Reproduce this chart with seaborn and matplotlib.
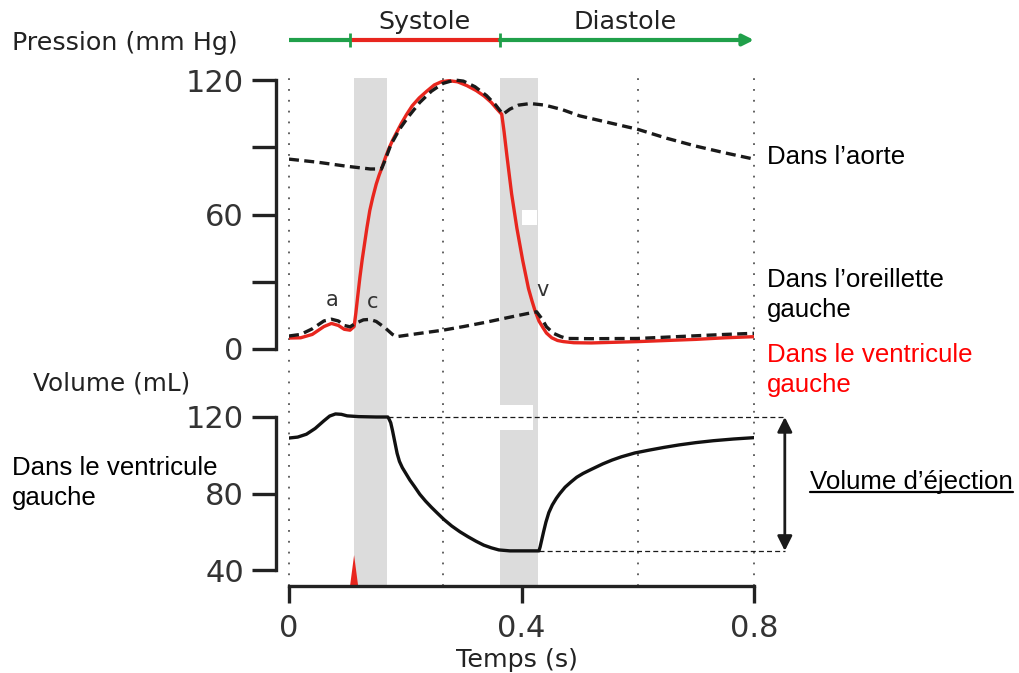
"""
Cycle cardiaque : pressions (aorte, oreillette, ventricule gauche) et volume ventriculaire.
"""
import numpy as np
import pandas as pd
import matplotlib
matplotlib.use('Agg')
import matplotlib.pyplot as plt
import seaborn as sns
from matplotlib.lines import Line2D
from matplotlib.patches import Rectangle

# --- data ---
# left ventricle pressure (mm Hg)
t_lv = [0.000, 0.020, 0.040, 0.060, 0.073, 0.085, 0.095, 0.105, 0.112, 0.115,
        0.118, 0.122, 0.126, 0.130, 0.134, 0.139, 0.144, 0.150, 0.155, 0.160,
        0.166, 0.172, 0.178, 0.185, 0.193, 0.202, 0.212, 0.224, 0.237, 0.250,
        0.262, 0.275, 0.290, 0.306, 0.322, 0.336, 0.348, 0.358, 0.366, 0.370,
        0.375, 0.383, 0.392, 0.402, 0.412, 0.418, 0.423, 0.430, 0.437, 0.443,
        0.452, 0.462, 0.472, 0.490, 0.520, 0.560, 0.600, 0.650, 0.700, 0.750,
        0.800]
p_lv = [4.9, 5.0, 6.5, 10.0, 11.4, 10.5, 8.8, 8.4, 10.0, 16.0,
        23.0, 32.0, 40.0, 47.0, 54.0, 61.8, 67.5, 73.5, 77.5, 81.0,
        85.5, 89.5, 93.0, 96.5, 100.5, 104.5, 108.5, 112.0, 115.0, 117.8,
        119.2, 119.7, 119.2, 117.5, 115.3, 112.8, 110.0, 107.0, 104.7, 97.0,
        86.0, 69.2, 54.0, 39.6, 27.0, 21.5, 17.3, 12.5, 9.5, 7.1,
        5.0, 3.8, 3.3, 2.8, 2.7, 3.0, 3.3, 3.8, 4.3, 5.0,
        5.5]

# aortic pressure (mm Hg)
t_ao = [0.000, 0.050, 0.100, 0.140, 0.159, 0.165, 0.175, 0.190, 0.205, 0.225,
        0.245, 0.265, 0.285, 0.300, 0.320, 0.340, 0.355, 0.368, 0.380, 0.395,
        0.415, 0.440, 0.470, 0.500, 0.550, 0.600, 0.650, 0.700, 0.750, 0.800]
p_ao = [84.7, 83.3, 81.5, 80.3, 80.3, 84.0, 91.0, 98.0, 103.5, 110.0,
        115.0, 118.5, 120.0, 119.5, 117.0, 113.0, 109.0, 104.7, 107.0, 108.8,
        109.5, 108.8, 106.8, 104.0, 101.0, 98.0, 94.0, 90.5, 87.5, 84.7]

# left atrium pressure (mm Hg)
t_la = [0.000, 0.020, 0.040, 0.060, 0.073, 0.085, 0.095, 0.105, 0.115, 0.128,
        0.139, 0.150, 0.165, 0.178, 0.185, 0.220, 0.265, 0.300, 0.340, 0.380,
        0.410, 0.426, 0.435, 0.443, 0.455, 0.468, 0.478, 0.520, 0.600, 0.650,
        0.700, 0.750, 0.800]
p_la = [5.8, 6.5, 9.0, 12.5, 13.3, 12.5, 10.5, 9.9, 11.5, 13.0,
        13.2, 12.3, 9.5, 6.5, 5.5, 6.8, 8.4, 10.0, 12.0, 14.2,
        15.8, 16.6, 13.5, 9.9, 7.0, 5.5, 4.7, 4.6, 4.7, 5.3,
        5.9, 6.5, 7.0]

# left ventricle volume (mL)
t_vol = [0.000, 0.015, 0.030, 0.045, 0.060, 0.070, 0.080, 0.090, 0.100, 0.120,
         0.150, 0.170, 0.172, 0.175, 0.178, 0.182, 0.186, 0.190, 0.195, 0.200,
         0.208, 0.216, 0.225, 0.235, 0.245, 0.255, 0.267, 0.280, 0.294, 0.308,
         0.322, 0.335, 0.348, 0.361, 0.380, 0.400, 0.430, 0.432, 0.435, 0.438,
         0.442, 0.447, 0.453, 0.460, 0.466, 0.475, 0.485, 0.495, 0.506, 0.520,
         0.540, 0.556, 0.572, 0.595, 0.620, 0.645, 0.671, 0.700, 0.730, 0.765,
         0.800]
vol = [109.0, 109.5, 111.0, 114.0, 118.0, 120.5, 121.6, 121.4, 120.6, 120.2,
       120.0, 120.0, 119.0, 117.0, 113.0, 107.0, 101.0, 96.8, 93.5, 91.0,
       87.0, 83.6, 79.6, 76.0, 72.8, 69.8, 66.3, 63.0, 60.0, 57.4,
       55.0, 53.0, 51.6, 50.5, 50.0, 50.0, 50.0, 52.0, 56.0, 60.0,
       65.0, 70.0, 74.0, 77.5, 80.0, 83.3, 86.0, 88.5, 90.5, 92.6,
       95.5, 97.5, 99.2, 101.2, 102.7, 104.1, 105.4, 106.6, 107.6, 108.5,
       109.2]

# end-diastolic / end-systolic volume and when they are reached
vol_edv, vol_esv = 120, 50
t_edv_end, t_esv_start = 0.170, 0.430

# isovolumetric phases (grey bands), reference lines, phase bar
bands = [(0.112, 0.169), (0.363, 0.428)]
ref_times = [0.0, 0.265, 0.6, 0.8]
phase_bounds = [0.0, 0.105, 0.363, 0.8]

# small red marker at the base of the volume panel
spike_t = [0.105, 0.112, 0.119]
spike_v = [31.6, 47.8, 31.6]

p_ticks = [0, 30, 60, 90, 120]
p_ticklabels = ['0', '', '60', '', '120']
v_ticks = [40, 80, 120]
v_ticklabels = ['40', '80', '120']
t_ticks = [0, 0.4, 0.8]
t_ticklabels = ['0', '0.4', '0.8']

RED = '#e8261e'
GREEN = '#20a04a'
GREY_BAND = '#dcdcdc'
INK = '#222222'

sns.set_theme(style='white')
plt.rcParams['font.family'] = ['DejaVu Sans']
plt.rcParams['lines.solid_joinstyle'] = 'round'

W, H = 1019, 673
fig = plt.figure(figsize=(W / 100, H / 100), dpi=100)


def px_axes(left, top, right, bottom):
    return fig.add_axes([left / W, 1 - bottom / H, (right - left) / W, (bottom - top) / H])


def fig_xy(x, y):
    return x / W, 1 - y / H


# pixel layout: pressure 0 -> y=349, 120 -> y=80 ; volume 40 -> y=570, 120 -> y=417
ax_p = px_axes(289, 78, 754, 405)
ax_v = px_axes(289, 405, 754, 586)
sc_p = (349 - 80) / 120
sc_v = (570 - 417) / 80
ax_p.set_ylim(0 - (405 - 349) / sc_p, 120 + (80 - 78) / sc_p)
ax_v.set_ylim(40 - (586 - 570) / sc_v, 120 + (417 - 405) / sc_v)
for ax in (ax_p, ax_v):
    ax.set_xlim(0, 0.8)
    ax.set_facecolor('none')
    for t0, t1 in bands:
        ax.axvspan(t0, t1, color=GREY_BAND, lw=0, zorder=0)
    for tr in ref_times:
        ax.axvline(tr, color='#555555', lw=1.3, ls=(0, (1, 5)), zorder=1, clip_on=False)

# little white gaps cutting the second band in the reference
ax_p.add_patch(Rectangle((0.401, 55.3), 0.026, 6.5, color='white', lw=0, zorder=0.5))
ax_v.add_patch(Rectangle((0.363, 120 - (430 - 417) / sc_v), 0.056, 20, color='white',
                         lw=0, zorder=0.5))

# --- pressure curves ---
df_lv = pd.DataFrame({'t': t_lv, 'p': p_lv})
df_ao = pd.DataFrame({'t': t_ao, 'p': p_ao})
df_la = pd.DataFrame({'t': t_la, 'p': p_la})
sns.lineplot(data=df_lv, x='t', y='p', ax=ax_p, color=RED, lw=2.4,
             estimator=None, sort=False, zorder=3)
for df in (df_ao, df_la):
    sns.lineplot(data=df, x='t', y='p', ax=ax_p, color='#1a1a1a', lw=2.4,
                 linestyle=(0, (3, 1.6)), estimator=None, sort=False, zorder=4)

# --- volume curve ---
df_vol = pd.DataFrame({'t': t_vol, 'v': vol})
sns.lineplot(data=df_vol, x='t', y='v', ax=ax_v, color='#111111', lw=2.4,
             estimator=None, sort=False, zorder=3)
ax_v.fill(spike_t, spike_v, color=RED, lw=0, zorder=2)

# stroke volume guides
t_arrow = 0.853
ax_v.plot([t_edv_end, t_arrow], [vol_edv, vol_edv], color='k', lw=0.9,
          ls=(0, (4, 2.5)), clip_on=False, zorder=2)
ax_v.plot([t_esv_start, t_arrow], [vol_esv, vol_esv], color='k', lw=0.9,
          ls=(0, (4, 2.5)), clip_on=False, zorder=2)
ax_v.annotate('', xy=(t_arrow, vol_edv), xytext=(t_arrow, vol_esv),
              arrowprops=dict(arrowstyle='<|-|>', color='k', lw=2, mutation_scale=22,
                              shrinkA=0, shrinkB=0),
              annotation_clip=False)

# --- axes styling ---
for ax in (ax_p, ax_v):
    ax.set_xlabel('')
    ax.set_ylabel('')
    ax.spines['top'].set_visible(False)
    ax.spines['right'].set_visible(False)
    ax.spines['left'].set_position(('outward', 9.5))
    ax.spines['left'].set_linewidth(2.4)
    ax.spines['left'].set_color(INK)
    ax.tick_params(axis='y', direction='out', length=17, width=2.4, color=INK,
                   labelsize=22, labelcolor='#333333', pad=6, left=True)

ax_p.spines['left'].set_bounds(0, 120)
ax_p.spines['bottom'].set_visible(False)
ax_p.set_yticks(p_ticks)
ax_p.set_yticklabels(p_ticklabels)
ax_p.set_xticks([])

ax_v.spines['left'].set_bounds(40, 120)
ax_v.set_yticks(v_ticks)
ax_v.set_yticklabels(v_ticklabels)
ax_v.spines['bottom'].set_bounds(0, 0.8)
ax_v.spines['bottom'].set_linewidth(2.4)
ax_v.spines['bottom'].set_color(INK)
ax_v.set_xticks(t_ticks)
ax_v.set_xticklabels(t_ticklabels)
ax_v.tick_params(axis='x', direction='out', length=12, width=2.4, color=INK,
                 labelsize=22, labelcolor='#333333', pad=8, bottom=True)

# --- phase bar (systole / diastole) ---
y_bar = (349 - 40) / sc_p
ax_p.plot(phase_bounds[0:2], [y_bar, y_bar], color=GREEN, lw=3, clip_on=False,
          solid_capstyle='butt')
ax_p.plot(phase_bounds[1:3], [y_bar, y_bar], color=RED, lw=3, clip_on=False,
          solid_capstyle='butt')
ax_p.annotate('', xy=(phase_bounds[3], y_bar), xytext=(phase_bounds[2], y_bar),
              arrowprops=dict(arrowstyle='-|>', color=GREEN, lw=3, mutation_scale=16,
                              shrinkA=0, shrinkB=0),
              annotation_clip=False)
ax_p.plot(phase_bounds[1:3], [y_bar, y_bar], ls='none', marker='|', ms=10, mew=2,
          color=GREEN, clip_on=False)

# --- texts ---
fig.text(*fig_xy(12, 43), 'Pression (mm Hg)', ha='left', va='center', fontsize=18.3, color=INK)
fig.text(*fig_xy(33, 383), 'Volume (mL)', ha='left', va='center', fontsize=17.8, color=INK)
fig.text(*fig_xy(424, 22), 'Systole', ha='center', va='center', fontsize=18.3, color=INK)
fig.text(*fig_xy(625, 22), 'Diastole', ha='center', va='center', fontsize=18.3, color=INK)
fig.text(*fig_xy(517, 660), 'Temps (s)', ha='center', va='center', fontsize=18.3, color=INK)
fig.text(*fig_xy(332, 300), 'a', ha='center', va='center', fontsize=15, color='#333333')
fig.text(*fig_xy(373, 302), 'c', ha='center', va='center', fontsize=15, color='#333333')
fig.text(*fig_xy(543, 290), 'v', ha='center', va='center', fontsize=15, color='#333333')

lab = dict(fontsize=18.6, family='Liberation Sans', ha='left', va='center', linespacing=1.3)
fig.text(*fig_xy(767, 157), 'Dans l’aorte', color='black', **lab)
fig.text(*fig_xy(767, 295), 'Dans l’oreillette\ngauche', color='black', **lab)
fig.text(*fig_xy(767, 370), 'Dans le ventricule\ngauche', color='#ff0000', **lab)
# left label as two lines so the first line stays clear of the "80" tick label
fig.text(*fig_xy(12, 468), 'Dans le ventricule', color='black', **lab)
fig.text(*fig_xy(12, 498), 'gauche', color='black', **lab)
sv_txt = fig.text(*fig_xy(810, 482), 'Volume d’éjection', color='black', **lab)

# underline the stroke volume label
fig.canvas.draw()
bb = sv_txt.get_window_extent().transformed(fig.transFigure.inverted())
y_ul = bb.y0 + 2 / H
fig.add_artist(Line2D([bb.x0, bb.x1], [y_ul, y_ul], color='black', lw=1.6,
                      transform=fig.transFigure))

fig.savefig('out.png', dpi=100)
plt.close(fig)
